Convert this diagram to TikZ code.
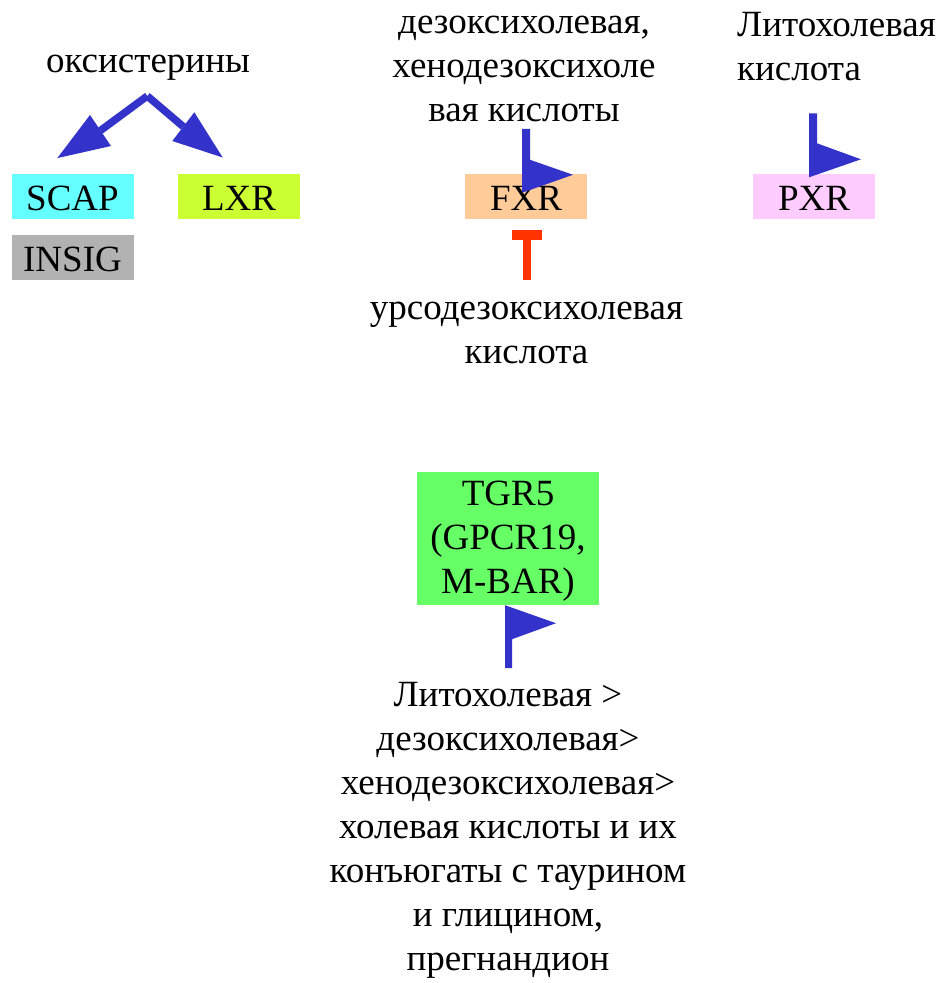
\documentclass[tikz,border=0pt]{standalone}
\usepackage{fontspec}
\setmainfont{Liberation Serif}
\usetikzlibrary{calc}

\definecolor{flagblue}{HTML}{3333CC}
\definecolor{inhibred}{HTML}{FF3300}
\definecolor{scapcol}{HTML}{66FFFF}
\definecolor{lxrcol}{HTML}{CCFF33}
\definecolor{insigcol}{HTML}{B2B2B2}
\definecolor{fxrcol}{HTML}{FFCC99}
\definecolor{pxrcol}{HTML}{FFCCFF}
\definecolor{tgrcol}{HTML}{66FF66}

\begin{document}
\begin{tikzpicture}[x=1pt,y=-1pt,
  every node/.style={font=\fontsize{37}{44}\selectfont, inner sep=0pt},
  box/.style={minimum width=122pt, minimum height=45pt, text height=28pt, text depth=0pt},
  txt/.style={align=center},
  shaft/.style={draw=flagblue, line width=7.5pt},
  flag/.style={fill=flagblue},
  inhib/.style={draw=inhibred}
]
\fill[white] (0,0) rectangle (940,983);
\useasboundingbox (0,0) rectangle (940,983);

% receptor boxes
\node[box, fill=scapcol]  (scap)  at (72.5,196.5) {SCAP};
\node[box, fill=lxrcol]   (lxr)   at (239,196.5)  {LXR};
\node[box, fill=insigcol] (insig) at (72.5,257.5) {INSIG};
\node[box, fill=fxrcol]   (fxr)   at (526,196.5)  {FXR};
\node[box, fill=pxrcol]   (pxr)   at (814,196.5)  {PXR};
\node[txt, fill=tgrcol, minimum width=182pt, minimum height=133pt]
  (tgr) at (508,538.5) {\strut TGR5\\(GPCR19,\\M-BAR)};

% ligand labels
\node[anchor=base] (oksi) at (148,72) {оксистерины};
\node[txt] (deoxy) at (524,68.7)
  {\strut дезоксихолевая,\\хенодезоксихоле\\вая кислоты\strut};
\node[align=left, anchor=west] (lito) at (737,49.2)
  {\strut Литохолевая\\кислота\strut};
\node[txt] (urso) at (526.5,332.2)
  {\strut урсодезоксихолевая\\кислота\strut};
\node[txt] (tgrlig) at (508,829.2)
  {\strut Литохолевая >\\дезоксихолевая>\\хенодезоксихолевая>\\холевая кислоты и их\\конъюгаты с таурином\\и глицином,\\прегнандион\strut};

% oxysterols act on SCAP and LXR
\coordinate (apex) at (147.3,96);
\coordinate (scaptip) at ($(scap.north)+(-15.2,-15.7)$);
\coordinate (scapc1) at (90,115);
\coordinate (scapc2) at (111,146);
\coordinate (scapmid) at ($(scapc1)!0.5!(scapc2)$);
\coordinate (lxrtip) at ($(lxr.north)+(-16.3,-16.3)$);
\coordinate (lxrc1) at (194.3,112.3);
\coordinate (lxrc2) at (172.3,141);
\coordinate (lxrmid) at ($(lxrc1)!0.5!(lxrc2)$);
\draw[shaft] (apex) -- (scapmid);
\fill[flag] (scaptip) -- (scapc1) -- (scapc2) -- cycle;
\draw[shaft] (apex) -- (lxrmid);
\fill[flag] (lxrtip) -- (lxrc1) -- (lxrc2) -- cycle;

% activating flags
\coordinate (fxrflag) at ($(fxr.north)+(-4,-45)$);
\fill[flag] (fxrflag) -- ++(8,0) -- ++(0,31) -- ++(43,15) -- ++(-51,18) -- cycle;
\coordinate (pxrflag) at ($(pxr.north)+(-5,-60.5)$);
\fill[flag] (pxrflag) -- ++(8,0) -- ++(0,30) -- ++(44,16) -- ++(-52,18) -- cycle;
\coordinate (tgrflag) at ($(tgr.south)+(-3,63)$);
\fill[flag] (tgrflag) -- ++(0,-63) -- ++(51,18) -- ++(-44,16) -- ++(0,29) -- cycle;

% inhibition of FXR
\coordinate (tbase) at ($(fxr.south)+(0.5,61)$);
\coordinate (tbar) at ($(fxr.south)+(0.5,16)$);
\draw[inhib, line width=8pt] (tbase) -- ($(tbar)+(0,-5)$);
\draw[inhib, line width=10pt] ($(tbar)+(-15,0)$) -- ($(tbar)+(15,0)$);
\end{tikzpicture}
\end{document}
